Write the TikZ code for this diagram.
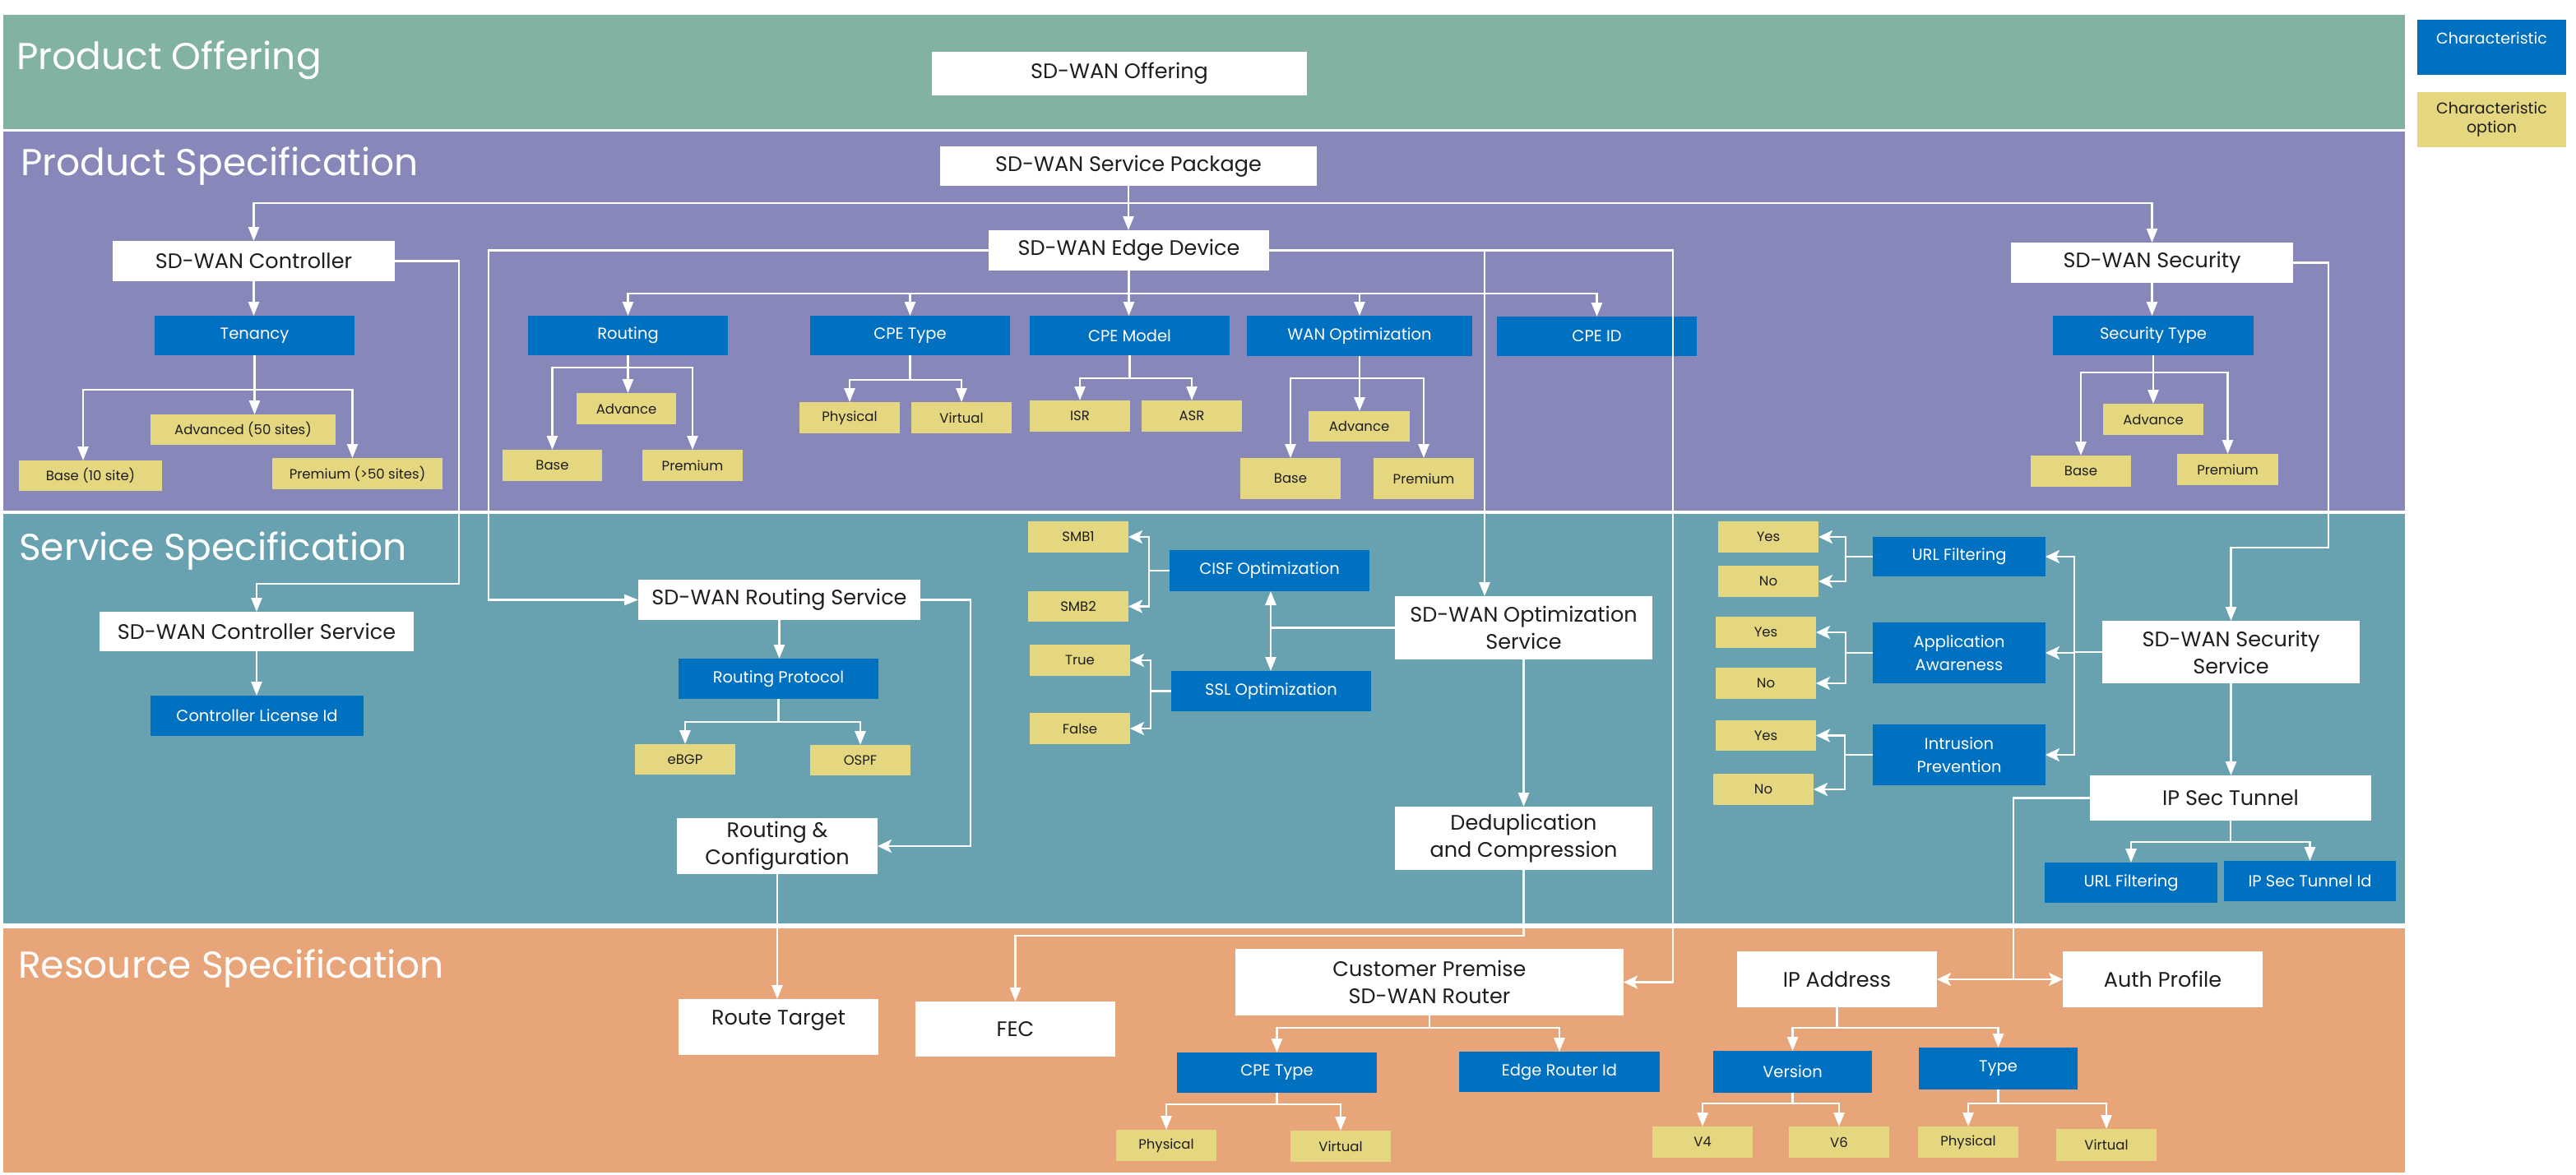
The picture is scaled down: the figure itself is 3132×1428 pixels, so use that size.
\documentclass[tikz,border=0pt]{standalone}
\usepackage{fontspec}
\setmainfont{Poppins}
\usetikzlibrary{arrows.meta,calc}
\definecolor{poband}{HTML}{82B3A0}
\definecolor{psband}{HTML}{8787BA}
\definecolor{ssband}{HTML}{68A2B0}
\definecolor{rsband}{HTML}{E8A57A}
\definecolor{charblue}{HTML}{0070C0}
\definecolor{optyel}{HTML}{E5D780}
\definecolor{txtdark}{HTML}{1E1E1E}
\tikzset{
 boxbase/.style={inner sep=0pt, outer sep=0pt, align=center},
 wbox/.style={boxbase, fill=white, text=txtdark, font=\fontsize{25.5}{33}\selectfont},
 wtext/.style={inner sep=0pt, text=txtdark, font=\fontsize{25.5}{33}\selectfont},
 cbox/.style={boxbase, fill=charblue, text=white, font=\fontsize{19.5}{28}\selectfont},
 obox/.style={boxbase, fill=optyel, text=txtdark, font=\fontsize{16.5}{23}\selectfont},
 ltext/.style={inner sep=0pt, text=white, font=\fontsize{19}{24}\selectfont},
 lobox/.style={boxbase, fill=optyel, text=txtdark, font=\fontsize{19}{23}\selectfont},
 btitle/.style={anchor=base west, text=white, font=\fontsize{45.5}{50}\selectfont, inner sep=0pt},
 conn/.style={draw=white, line width=2.6pt},
 arr/.style={conn, -{Triangle[length=17pt,width=13pt]}},
 sarr/.style={conn, -{Stealth[length=17pt,width=16pt,inset=4pt]}},
}
\newcommand\mybx[7]{\pgfmathsetmacro\bw{#4-#2}\pgfmathsetmacro\bh{#5-#3}%
 \node[#6, minimum width=\bw pt, minimum height=\bh pt] (#1) at ({(#2+#4)/2},{(#3+#5)/2}) {#7};}
\begin{document}
\begin{tikzpicture}[x=1pt,y=-1pt]
\useasboundingbox (0,0) rectangle (3132,1428);
% bands
\fill[poband] (4,18) rectangle (2924,157);
\fill[psband] (4,160) rectangle (2924,621);
\fill[ssband] (4,625) rectangle (2924,1123);
\fill[rsband] (4,1129) rectangle (2924,1426);
\node[btitle] (tPO) at (20,84) {Product Offering};
\node[btitle] (tPS) at (25,213) {Product Specification};
\node[btitle] (tSS) at (23,681) {Service Specification};
\node[btitle] (tRS) at (22,1189) {Resource Specification};
% legend
\mybx{legc}{2939}{24}{3120}{91}{cbox}{}
\node[ltext] (legct) at (3029.5,46) {Characteristic};
\mybx{lego}{2939}{112}{3120}{179}{lobox}{Characteristic\\option}
% product offering / specification
\mybx{offer}{1133}{63}{1589}{116}{wbox}{SD-WAN Offering}
\mybx{spkg}{1143}{178}{1601}{226}{wbox}{SD-WAN Service Package}
\mybx{ctrl}{137}{293}{480}{342}{wbox}{SD-WAN Controller}
\mybx{edge}{1202}{280}{1543}{329}{wbox}{SD-WAN Edge Device}
\mybx{sec}{2445}{295}{2788}{344}{wbox}{SD-WAN Security}
\mybx{ten}{188}{384}{431}{432}{cbox}{Tenancy}
\mybx{tbase}{23}{560}{197}{597}{obox}{Base (10 site)}
\mybx{tadv}{183}{504}{408}{541}{obox}{Advanced (50 sites)}
\mybx{tprem}{331}{557}{538}{595}{obox}{Premium (>50 sites)}
\mybx{rout}{642}{384}{885}{432}{cbox}{Routing}
\mybx{radv}{701}{478}{822}{516}{obox}{Advance}
\mybx{rbase}{611}{547}{732}{585}{obox}{Base}
\mybx{rprem}{781}{547}{903}{585}{obox}{Premium}
\mybx{cpet}{985}{384}{1228}{432}{cbox}{CPE Type}
\mybx{cphy}{972}{489}{1094}{527}{obox}{Physical}
\mybx{cvir}{1108}{489}{1230}{527}{obox}{Virtual}
\mybx{cpem}{1252}{384}{1495}{432}{cbox}{CPE Model}
\mybx{isr}{1252}{487}{1374}{525}{obox}{ISR}
\mybx{asr}{1388}{487}{1510}{525}{obox}{ASR}
\mybx{wan}{1516}{384}{1790}{433}{cbox}{WAN Optimization}
\mybx{wadv}{1591}{500}{1714}{537}{obox}{Advance}
\mybx{wbase}{1508}{557}{1630}{607}{obox}{Base}
\mybx{wprem}{1670}{557}{1792}{607}{obox}{Premium}
\mybx{cpeid}{1820}{385}{2063}{433}{cbox}{CPE ID}
\mybx{sect}{2496}{384}{2740}{432}{cbox}{Security Type}
\mybx{sadv}{2557}{491}{2679}{529}{obox}{Advance}
\mybx{sbase}{2469}{554}{2591}{592}{obox}{Base}
\mybx{sprem}{2647}{552}{2770}{590}{obox}{Premium}
% service specification
\mybx{csvc}{121}{744}{503}{792}{wbox}{SD-WAN Controller Service}
\mybx{clic}{183}{846}{442}{895}{cbox}{Controller License Id}
\mybx{rsvc}{776}{705}{1119}{754}{wbox}{SD-WAN Routing Service}
\mybx{rproto}{825}{801}{1068}{850}{cbox}{Routing Protocol}
\mybx{ebgp}{772}{905}{894}{942}{obox}{eBGP}
\mybx{ospf}{985}{906}{1107}{943}{obox}{OSPF}
\mybx{rcfg}{823}{995}{1067}{1063}{wbox}{Routing \&\\Configuration}
\mybx{smb1}{1250}{634}{1372}{672}{obox}{SMB1}
\mybx{smb2}{1250}{719}{1372}{756}{obox}{SMB2}
\mybx{cisf}{1422}{669}{1665}{719}{cbox}{CISF Optimization}
\mybx{true}{1252}{784}{1374}{822}{obox}{True}
\mybx{false}{1252}{867}{1374}{905}{obox}{False}
\mybx{ssl}{1424}{816}{1667}{865}{cbox}{SSL Optimization}
\mybx{osvc}{1696}{725}{2009}{802}{wbox}{SD-WAN Optimization\\Service}
\mybx{dedup}{1696}{981}{2009}{1058}{wbox}{Deduplication\\and Compression}
\mybx{ya}{2089}{634}{2211}{672}{obox}{Yes}
\mybx{na}{2089}{688}{2211}{726}{obox}{No}
\mybx{url}{2277}{653}{2487}{701}{cbox}{URL Filtering}
\mybx{yb}{2086}{750}{2208}{788}{obox}{Yes}
\mybx{nb}{2086}{812}{2208}{850}{obox}{No}
\mybx{app}{2277}{757}{2487}{831}{cbox}{Application\\Awareness}
\mybx{yc}{2086}{876}{2208}{913}{obox}{Yes}
\mybx{nc}{2083}{941}{2205}{979}{obox}{No}
\mybx{ips}{2277}{881}{2487}{955}{cbox}{Intrusion\\Prevention}
\mybx{ssvc}{2556}{755}{2869}{831}{wbox}{SD-WAN Security\\Service}
\mybx{ipsec}{2541}{943}{2883}{998}{wbox}{IP Sec Tunnel}
\mybx{urlb}{2486}{1049}{2696}{1098}{cbox}{URL Filtering}
\mybx{ipsid}{2704}{1047}{2913}{1096}{cbox}{IP Sec Tunnel Id}
% resource specification
\mybx{rtgt}{825}{1215}{1068}{1283}{wbox}{}
\node[wtext] (rtgtl) at (946.5,1241) {Route Target};
\mybx{fec}{1113}{1218}{1356}{1285}{wbox}{FEC}
\mybx{cpr}{1502}{1154}{1974}{1235}{wbox}{Customer Premise\\SD-WAN Router}
\mybx{rcpet}{1431}{1280}{1674}{1329}{cbox}{CPE Type}
\mybx{erid}{1774}{1279}{2018}{1328}{cbox}{Edge Router Id}
\mybx{rphy}{1357}{1374}{1479}{1412}{obox}{Physical}
\mybx{rvir}{1569}{1375}{1691}{1413}{obox}{Virtual}
\mybx{ipa}{2112}{1157}{2355}{1225}{wbox}{IP Address}
\mybx{auth}{2508}{1157}{2751}{1225}{wbox}{Auth Profile}
\mybx{ver}{2083}{1278}{2276}{1329}{cbox}{Version}
\mybx{typ}{2333}{1274}{2526}{1325}{cbox}{Type}
\mybx{vfour}{2009}{1370}{2131}{1408}{obox}{V4}
\mybx{vsix}{2175}{1370}{2297}{1408}{obox}{V6}
\mybx{tphy}{2332}{1370}{2454}{1408}{obox}{Physical}
\mybx{tvir}{2500}{1373}{2622}{1412}{obox}{Virtual}
% ---------- connectors ----------
\coordinate (jsp) at (1372,247);
\draw[conn] (spkg.south) -- (jsp);
\draw[arr] (jsp) -| (ctrl.north);
\draw[arr] (jsp) -| (sec.north);
\draw[arr] (jsp) -- (jsp |- edge.north);
\draw[arr] (ctrl.south) -- (ctrl.south |- ten.north);
\draw[conn] (ten.south) -- ++(0,42) coordinate (jten);
\draw[arr] (jten) -| ([xshift=-9pt]tbase.north);
\draw[arr] (jten) -- (jten |- tadv.north);
\draw[arr] (jten) -| ([xshift=-6pt]tprem.north);
\draw[conn] (edge.south) -- ++(0,28) coordinate (jedge);
\draw[arr] (jedge) -| (rout.north);
\draw[arr] (jedge) -| (cpet.north);
\draw[arr] (jedge) -- (jedge |- cpem.north);
\draw[arr] (jedge) -| (wan.north);
\draw[arr] (jedge) -| (cpeid.north);
\draw[conn] (rout.south) -- ++(0,15) coordinate (jrout);
\draw[arr] (jrout) -| (rbase.north);
\draw[arr] (jrout) -- (jrout |- radv.north);
\draw[arr] (jrout) -| (rprem.north);
\draw[conn] (cpet.south) -- ++(0,30) coordinate (jcpet);
\draw[arr] (jcpet) -| (cphy.north);
\draw[arr] (jcpet) -| (cvir.north);
\draw[conn] (cpem.south) -- ++(0,28) coordinate (jcpem);
\draw[arr] (jcpem) -| (isr.north);
\draw[arr] (jcpem) -| (asr.north);
\draw[conn] (wan.south) -- ++(0,27) coordinate (jwan);
\draw[arr] (jwan) -| (wbase.north);
\draw[arr] (jwan) -- (jwan |- wadv.north);
\draw[arr] (jwan) -| (wprem.north);
\draw[arr] (sec.south) -- (sec.south |- sect.north);
\draw[conn] (sect.south) -- ++(0,21) coordinate (jsect);
\draw[arr] (jsect) -| (sbase.north);
\draw[arr] (jsect) -- (jsect |- sadv.north);
\draw[arr] (jsect) -| (sprem.north);
% long connectors
\coordinate (ba) at (558,710);
\draw[arr] (ctrl.east) -| (ba) -| (csvc.north);
\draw[arr] (csvc.south) -- (csvc.south |- clic.north);
\coordinate (bb) at (594,729.5);
\draw[arr] (edge.west) -| (bb) -- (rsvc.west);
\coordinate (bc) at (1180,1029);
\draw[sarr] (rsvc.east) -| (bc) -- (rcfg.east);
\draw[arr] (rsvc.south) -- (rsvc.south |- rproto.north);
\draw[conn] (rproto.south) -- ++(0,28) coordinate (jproto);
\draw[arr] (jproto) -| (ebgp.north);
\draw[arr] (jproto) -| (ospf.north);
\draw[arr] (rcfg.south) -- (rcfg.south |- rtgt.north);
\coordinate (bd) at (2034,1194.5);
\draw[sarr] (edge.east) -| (bd) -- (cpr.east);
\coordinate (be) at (1805,304.5);
\draw[arr] (be) -- (be |- osvc.north);
\draw[arr] (osvc.south) -- (dedup.north);
\coordinate (bf) at (1852.5,1138);
\draw[arr] (dedup.south) -- (bf) -| (fec.north);
\coordinate (bg) at (1545,763.5);
\draw[conn] (osvc.west) -- (bg);
\draw[arr] (bg) -- (bg |- cisf.south);
\draw[arr] (bg) -- (bg |- ssl.north);
\coordinate (bh) at (1397,694);
\draw[conn] (cisf.west) -- (bh);
\draw[sarr] (bh) |- (smb1.east);
\draw[sarr] (bh) |- (smb2.east);
\coordinate (bi) at (1399,840.5);
\draw[conn] (ssl.west) -- (bi);
\draw[sarr] (bi) |- (true.east);
\draw[sarr] (bi) |- (false.east);
\coordinate (bj) at (2831,666);
\draw[arr] (sec.east) -| (bj) -| (ssvc.north);
\draw[arr] (ssvc.south) -- (ssvc.south |- ipsec.north);
\coordinate (bk) at (2522,793);
\draw[conn] (ssvc.west) -- (bk);
\draw[sarr] (bk) |- (url.east);
\draw[sarr] (bk) |- (app.east);
\draw[sarr] (bk) |- (ips.east);
\coordinate (bl) at (2244,677);
\draw[conn] (url.west) -- (bl);
\draw[sarr] (bl) |- (ya.east);
\draw[sarr] (bl) |- (na.east);
\coordinate (bm) at (2244,794);
\draw[conn] (app.west) -- (bm);
\draw[sarr] (bm) |- (yb.east);
\draw[sarr] (bm) |- (nb.east);
\coordinate (bn) at (2243,918);
\draw[conn] (ips.west) -- (bn);
\draw[sarr] (bn) |- (yc.east);
\draw[sarr] (bn) |- (nc.east);
\draw[conn] (ipsec.south) -- ++(0,26) coordinate (jipsec);
\draw[arr] (jipsec) -| (urlb.north);
\draw[arr] (jipsec) -| (ipsid.north);
\coordinate (bo) at (2448,1191);
\draw[conn] (ipsec.west) -| (bo);
\draw[sarr] (bo) -- (ipa.east);
\draw[sarr] (bo) -- (auth.west);
\draw[conn] (cpr.south) -- ++(0,15) coordinate (jcpr);
\draw[arr] (jcpr) -| (rcpet.north);
\draw[arr] (jcpr) -| (erid.north);
\draw[conn] (rcpet.south) -- ++(0,14) coordinate (jrcpet);
\draw[arr] (jrcpet) -| (rphy.north);
\draw[arr] (jrcpet) -| (rvir.north);
\draw[conn] (ipa.south) -- ++(0,25) coordinate (jipa);
\draw[arr] (jipa) -| (ver.north);
\draw[arr] (jipa) -| (typ.north);
\draw[conn] (ver.south) -- ++(0,13) coordinate (jver);
\draw[arr] (jver) -| (vfour.north);
\draw[arr] (jver) -| (vsix.north);
\draw[conn] (typ.south) -- ++(0,17) coordinate (jtyp);
\draw[arr] (jtyp) -| (tphy.north);
\draw[arr] (jtyp) -| (tvir.north);
\end{tikzpicture}
\end{document}
